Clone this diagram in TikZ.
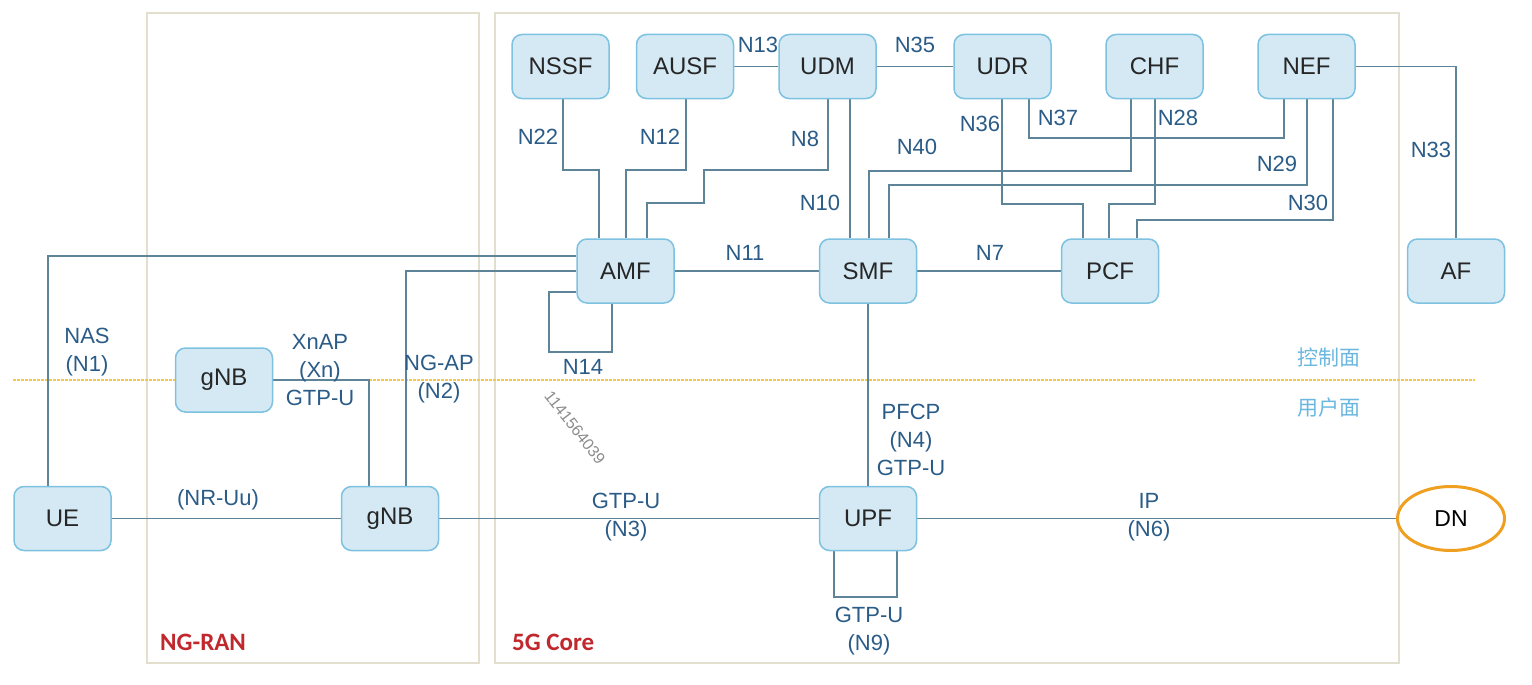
\documentclass[tikz,border=0pt]{standalone}
\usepackage{fontspec}
\setmainfont{Liberation Sans}
\newfontfamily\cjk{Noto Sans CJK SC}
\newfontfamily\tagfont{Carlito}
\usetikzlibrary{backgrounds,shapes.geometric}
\definecolor{boxfill}{HTML}{D4E9F4}
\definecolor{boxline}{HTML}{7DC2E0}
\definecolor{conn}{HTML}{5E8499}
\definecolor{lbl}{HTML}{2B5C87}
\definecolor{frame}{HTML}{E2DFCF}
\definecolor{planeline}{HTML}{F2C94C}
\definecolor{planetxt}{HTML}{6AB7E0}
\definecolor{tagred}{HTML}{C0282D}
\definecolor{dnline}{HTML}{F0A020}
\tikzset{
  nf/.style={rectangle, rounded corners=10pt, draw=boxline, fill=boxfill, line width=1.5pt,
    minimum width=97pt, minimum height=64pt, inner sep=0pt, text=black!85,
    font=\fontsize{24}{28}\selectfont},
  dnnode/.style={ellipse, draw=dnline, line width=3pt, fill=white, minimum width=107pt,
    minimum height=64pt, inner sep=0pt, font=\fontsize{23}{27}\selectfont},
  cn/.style={draw=conn, line width=1.3pt},
  lb/.style={text=lbl, font=\fontsize{22}{28}\selectfont, align=center, inner sep=0pt},
  pl/.style={text=planetxt, font=\cjk\fontsize{21}{25}\selectfont, inner sep=0pt},
  tag/.style={text=tagred, font=\tagfont\bfseries\fontsize{25}{29}\selectfont, inner sep=0pt, anchor=west},
  fr/.style={draw=frame, line width=1.5pt}
}
\begin{document}
\begin{tikzpicture}[x=1pt,y=-1pt]
\useasboundingbox (0,0) rectangle (1532,685);
% nodes
\node[nf] (NSSF) at (560.5,66.5) {NSSF};
\node[nf] (AUSF) at (685,66.5) {AUSF};
\node[nf] (UDM) at (827.5,66.5) {UDM};
\node[nf] (UDR) at (1002.5,66.5) {UDR};
\node[nf] (CHF) at (1154.5,66.5) {CHF};
\node[nf] (NEF) at (1306.5,66.5) {NEF};
\node[nf] (AMF) at (625.5,271) {AMF};
\node[nf] (SMF) at (868,271) {SMF};
\node[nf] (PCF) at (1110,271) {PCF};
\node[nf] (AF) at (1456,271) {AF};
\node[nf] (UE) at (62.5,518.5) {UE};
\node[nf] (gNBa) at (224,380) {gNB};
\node[nf] (gNBb) at (390,518.5) {gNB};
\node[nf] (UPF) at (868,518.5) {UPF};
\node[dnnode] (DN) at (1451,518.5) {DN};
\begin{pgfonlayer}{background}
\fill[white] (0,0) rectangle (1532,685);
\draw[fr] (147,13) rectangle (479,663);
\draw[fr] (495,13) rectangle (1399,663);
\draw[planeline, line width=1.3pt, dash pattern=on 2.5pt off 1.5pt] (13,380) -- (1475,380);
% connectors
\draw[cn] (NSSF.south -| 563,0) |- (599,170) -- (AMF.north -| 599,0);
\draw[cn] (AUSF.south -| 686,0) |- (626,170) -- (AMF.north -| 626,0);
\draw[cn] (UDM.south -| 828,0) |- (704,170) |- (647,203) -- (AMF.north -| 647,0);
\draw[cn] (UDM.south -| 850,0) -- (SMF.north -| 850,0);
\draw[cn] (AUSF.east) -- (UDM.west);
\draw[cn] (UDM.east) -- (UDR.west);
\draw[cn] (SMF.north -| 869,0) |- (1131,171) -- (CHF.south -| 1131,0);
\draw[cn] (SMF.north -| 889,0) |- (1307,185) -- (NEF.south -| 1307,0);
\draw[cn] (UDR.south -| 1002,0) |- (1083,204) -- (PCF.north -| 1083,0);
\draw[cn] (UDR.south -| 1029,0) |- (1284,138) -- (NEF.south -| 1284,0);
\draw[cn] (CHF.south -| 1155,0) |- (1109,204) -- (PCF.north -| 1109,0);
\draw[cn] (NEF.south -| 1333,0) |- (1137,220) -- (PCF.north -| 1137,0);
\draw[cn] (NEF.east) -| (AF.north);
\draw[cn] (AMF) -- (SMF);
\draw[cn] (SMF) -- (PCF);
\draw[cn] (UE.north -| 48,0) |- (AMF.west |- 0,256);
\draw[cn] (gNBb.north -| 406,0) |- (AMF.west |- 0,271);
\draw[cn] (AMF.west |- 0,292) -| (549,352) -| (AMF.south -| 612,0);
\draw[cn] (gNBa.east) -| (gNBb.north -| 369,0);
\draw[cn] (UE) -- (gNBb);
\draw[cn] (gNBb) -- (UPF);
\draw[cn] (UPF) -- (DN);
\draw[cn] (SMF) -- (UPF);
\draw[cn] (UPF.south -| 834,0) |- (897,597) -- (UPF.south -| 897,0);
\end{pgfonlayer}
% labels
\node[lb] (l22) at (538,137) {N22};
\node[lb] (l12) at (660,137) {N12};
\node[lb] (l8) at (805,139) {N8};
\node[lb] (l13) at (758,45) {N13};
\node[lb] (l35) at (915,45) {N35};
\node[lb] (l10) at (820,203) {N10};
\node[lb] (l40) at (917,147) {N40};
\node[lb] (l36) at (980,124) {N36};
\node[lb] (l37) at (1058,118) {N37};
\node[lb] (l28) at (1178,118) {N28};
\node[lb] (l29) at (1277,164) {N29};
\node[lb] (l30) at (1308,203) {N30};
\node[lb] (l33) at (1431,150) {N33};
\node[lb] (l11) at (745,253) {N11};
\node[lb] (l7) at (990,253) {N7};
\node[lb] (l14) at (583,367) {N14};
\node[lb] (lnas) at (87,352) {NAS\\(N1)};
\node[lb] (lxn) at (320,370) {XnAP\\(Xn)\\GTP-U};
\node[lb] (lng) at (439,379) {NG-AP\\(N2)};
\node[lb] (lnr) at (218,500) {(NR-Uu)};
\node[lb] (ln3) at (626,517) {GTP-U\\(N3)};
\node[lb] (ln4) at (911,440) {PFCP\\(N4)\\GTP-U};
\node[lb] (ln6) at (1149,517) {IP\\(N6)};
\node[lb] (ln9) at (869,631) {GTP-U\\(N9)};
\node[pl] (cp) at (1329,358) {控制面};
\node[pl] (up) at (1329,408) {用户面};
\node[tag] (ran) at (160,642) {NG-RAN};
\node[tag] (core) at (512,642) {5G Core};
\node[text=black!45, font=\fontsize{16}{18}\selectfont, rotate=-52, inner sep=0pt] (wm) at (575,428) {1141564039};
\end{tikzpicture}
\end{document}
